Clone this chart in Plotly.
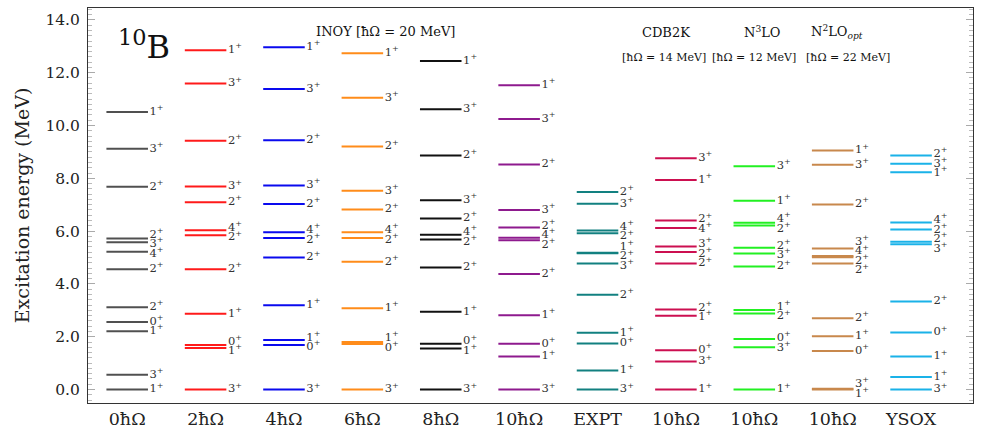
import plotly.graph_objects as go

columns = ["0ħΩ", "2ħΩ", "4ħΩ", "6ħΩ", "8ħΩ", "10ħΩ", "EXPT", "10ħΩ", "10ħΩ", "10ħΩ", "YSOX"]
colors = ["#505050", "#ff1a1a", "#0a0aee", "#ff8c1a", "#111111", "#8e1a8e",
          "#128080", "#cc0f50", "#22f022", "#c8884c", "#1ab2e8"]

e_0hw = [0.0, 0.56, 2.21, 2.56, 3.12, 4.56, 5.22, 5.58, 5.72, 7.68, 9.12, 10.51]
j_0hw = ["1", "3", "1", "0", "2", "2", "4", "3", "2", "2", "3", "1"]
e_2hw = [0.0, 1.57, 1.69, 2.87, 4.56, 5.84, 6.03, 7.09, 7.69, 9.42, 11.59, 12.85]
j_2hw = ["3", "1", "0", "1", "2", "2", "4", "2", "3", "2", "3", "1"]
e_4hw = [0.0, 1.69, 1.88, 3.19, 5.00, 5.74, 5.96, 7.03, 7.73, 9.44, 11.38, 12.96]
j_4hw = ["3", "0", "1", "1", "2", "2", "4", "2", "3", "2", "3", "1"]
e_6hw = [0.0, 1.72, 1.80, 3.08, 4.84, 5.74, 5.96, 6.82, 7.53, 9.20, 11.05, 12.74]
j_6hw = ["3", "0", "1", "1", "2", "2", "4", "2", "3", "2", "3", "1"]
e_8hw = [0.0, 1.55, 1.73, 2.95, 4.62, 5.68, 5.86, 6.48, 7.17, 8.86, 10.62, 12.44]
j_8hw = ["3", "1", "0", "1", "2", "2", "4", "2", "3", "2", "3", "1"]
e_10hw = [0.0, 1.25, 1.73, 2.81, 4.38, 5.65, 5.75, 6.14, 6.80, 8.52, 10.25, 11.52]
j_10hw = ["3", "1", "0", "1", "2", "2", "4", "2", "3", "2", "3", "1"]
e_expt = [0.0, 0.718, 1.740, 2.154, 3.587, 4.774, 5.164, 5.180, 5.920, 6.025, 7.04, 7.48]
j_expt = ["3", "1", "0", "1", "2", "3", "2", "1", "2", "4", "3", "2"]
e_cdb2k = [0.0, 1.06, 1.49, 2.79, 3.03, 4.77, 5.21, 5.42, 6.12, 6.40, 7.94, 8.76]
j_cdb2k = ["1", "3", "0", "1", "2", "2", "2", "3", "4", "2", "1", "3"]
e_n3lo = [0.0, 1.60, 1.91, 2.88, 3.01, 4.66, 5.15, 5.37, 6.21, 6.32, 7.15, 8.46]
j_n3lo = ["1", "3", "0", "2", "1", "2", "3", "2", "2", "4", "1", "3"]
e_n2lo = [0.0, 0.03, 1.46, 2.02, 2.70, 4.77, 5.01, 5.06, 5.34, 7.01, 8.51, 9.05]
j_n2lo = ["1", "3", "0", "1", "2", "2", "2", "4", "3", "2", "3", "1"]
e_ysox = [0.0, 0.47, 1.25, 2.16, 3.33, 5.50, 5.60, 6.06, 6.33, 8.23, 8.55, 8.86]
j_ysox = ["3", "1", "1", "0", "2", "3", "2", "2", "4", "1", "3", "2"]

energies = [e_0hw, e_2hw, e_4hw, e_6hw, e_8hw, e_10hw, e_expt, e_cdb2k, e_n3lo, e_n2lo, e_ysox]
spins = [j_0hw, j_2hw, j_4hw, j_6hw, j_8hw, j_10hw, j_expt, j_cdb2k, j_n3lo, j_n2lo, j_ysox]

HALF = 0.265
GAP = 0.36
FONT = "DejaVu Serif"


def spread(vals, gap):
    order = sorted(range(len(vals)), key=lambda i: vals[i])
    pos = [vals[i] for i in order]
    for _ in range(400):
        moved = False
        for k in range(len(pos) - 1):
            d = pos[k + 1] - pos[k]
            if d < gap - 1e-6:
                s = (gap - d) / 2
                pos[k] -= s
                pos[k + 1] += s
                moved = True
        if not moved:
            break
    out = [0.0] * len(vals)
    for k, i in enumerate(order):
        out[i] = pos[k]
    return out


fig = go.Figure()
for ci, (es, js) in enumerate(zip(energies, spins)):
    xs, ys = [], []
    for e in es:
        xs += [ci - HALF, ci + HALF, None]
        ys += [e, e, None]
    fig.add_trace(go.Scatter(x=xs, y=ys, mode="lines",
                             line=dict(color=colors[ci], width=2),
                             hoverinfo="skip", showlegend=False))
    ly = spread(es, GAP)
    fig.add_trace(go.Scatter(x=[ci + HALF + 0.02] * len(es), y=ly, mode="text",
                             text=[f"{j}<sup>+</sup>" for j in js],
                             textposition="middle right",
                             textfont=dict(family=FONT, size=11.5, color="#333333"),
                             hoverinfo="skip", showlegend=False))

ann = [
    dict(x=0.21, y=13.05, text="<sup>10</sup>B", size=32),
    dict(x=3.30, y=13.57, text="INOY [ħΩ = 20 MeV]", size=13),
    dict(x=6.87, y=13.53, text="CDB2K", size=13),
    dict(x=8.10, y=13.53, text="N<sup>3</sup>LO", size=13),
    dict(x=9.06, y=13.53, text="N<sup>2</sup>LO<sub><i>opt</i></sub>", size=13),
    dict(x=6.85, y=12.58, text="[ħΩ = 14 MeV]", size=11),
    dict(x=8.00, y=12.58, text="[ħΩ = 12 MeV]", size=11),
    dict(x=9.20, y=12.58, text="[ħΩ = 22 MeV]", size=11),
]
for a in ann:
    fig.add_annotation(x=a["x"], y=a["y"], text=a["text"], showarrow=False,
                       xanchor="center", yanchor="middle",
                       font=dict(family=FONT, size=a["size"], color="#111111"))

fig.update_layout(
    width=981, height=436,
    margin=dict(l=88, r=7, t=7, b=32),
    plot_bgcolor="white", paper_bgcolor="white",
    font=dict(family=FONT, color="#222222"),
)
fig.update_xaxes(range=[-0.5, 10.79], tickvals=list(range(len(columns))),
                 ticktext=columns, tickfont=dict(size=17.5, family=FONT),
                 showgrid=False, zeroline=False, ticks="",
                 showline=True, linecolor="#333333", linewidth=1, mirror=True)
fig.update_yaxes(range=[-0.51, 14.45], tickvals=[0, 2, 4, 6, 8, 10, 12, 14],
                 tickformat=".1f", tickfont=dict(size=15.5, family=FONT),
                 showgrid=False, zeroline=False, ticklabelstandoff=4,
                 ticks="inside", ticklen=7, tickcolor="#aaaaaa", tickwidth=1,
                 minor=dict(dtick=0.2, tick0=0, ticks="inside", ticklen=4,
                            tickcolor="#bbbbbb", tickwidth=1, showgrid=False),
                 showline=True, linecolor="#333333", linewidth=1, mirror="ticks",
                 title=dict(text="Excitation energy (MeV)",
                            font=dict(size=19, family=FONT), standoff=10))

fig.write_html("out.html", config={"displayModeBar": False},
               post_script="document.body.style.margin='0px';document.body.style.overflow='hidden';")
